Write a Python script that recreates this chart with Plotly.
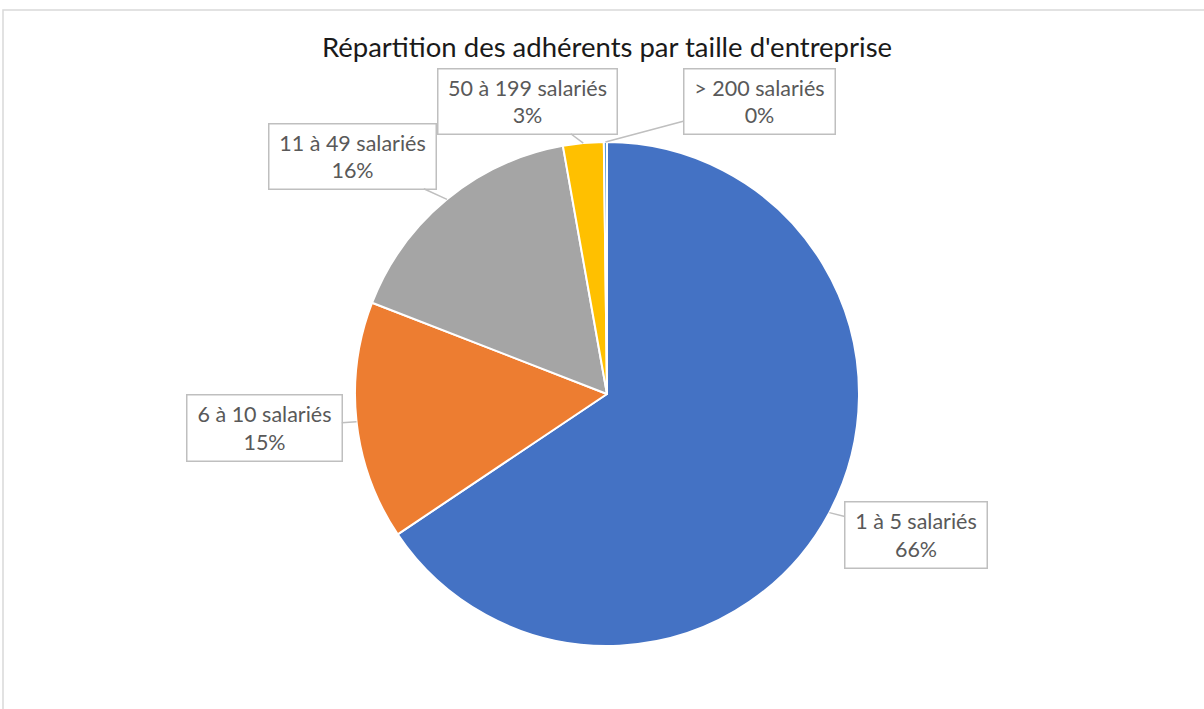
import math
import plotly.graph_objects as go

# ---- data ----
categories = ["1 à 5 salariés", "6 à 10 salariés", "11 à 49 salariés", "50 à 199 salariés", "> 200 salariés"]
values = [65.6, 15.3, 16.3, 2.6, 0.2]
colors = ["#4472C4", "#ED7D31", "#A5A5A5", "#FFC000", "#5B9BD5"]
title_text = "Répartition des adhérents par taille d'entreprise"

# ---- layout constants (pixels) ----
W, H = 1204, 709
CX, CY, R = 607, 394, 252
# label box centres and sizes (layout)
box_centres = [(916, 535), (264, 428), (352, 156), (527, 101), (759, 101)]
box_sizes = [(141, 65), (154, 65), (166, 64), (178, 64), (150, 64)]

fig = go.Figure()
fig.add_trace(go.Pie(
    labels=categories, values=values, sort=False, direction="clockwise", rotation=0,
    marker=dict(colors=colors, line=dict(color="white", width=2)),
    textinfo="none", hoverinfo="label+percent", showlegend=False,
    domain=dict(x=[(CX - R) / W, (CX + R) / W], y=[(H - CY - R) / H, (H - CY + R) / H]),
))

# hidden pixel axes covering the whole figure
fig.update_layout(
    xaxis=dict(range=[0, W], visible=False, domain=[0, 1], fixedrange=True),
    yaxis=dict(range=[H, 0], visible=False, domain=[0, 1], fixedrange=True),
)

total = sum(values)
cum = 0.0
annotations = []
for i, (cat, v) in enumerate(zip(categories, values)):
    mid = (cum + v / 2) / total * 2 * math.pi
    cum += v
    ex = CX + R * math.sin(mid)
    ey = CY - R * math.cos(mid)
    pct = round(v / total * 100)
    bx, by = box_centres[i]
    bw, bh = box_sizes[i]
    annotations.append(dict(
        x=ex, y=ey, xref="x", yref="y",
        ax=bx, ay=by, axref="x", ayref="y",
        text=f"{cat}<br>{pct}%", showarrow=True, arrowhead=0, arrowwidth=1.5,
        arrowcolor="#BFBFBF", bordercolor="#BFBFBF", borderwidth=1.5, borderpad=0,
        bgcolor="white", width=bw, height=bh, align="center", valign="middle",
        font=dict(family="Lato", size=21.5, color="#595959"),
    ))

fig.update_layout(
    width=W, height=H, margin=dict(l=0, r=0, t=0, b=0),
    paper_bgcolor="white", plot_bgcolor="white",
    title=dict(text=title_text, x=607 / W, xanchor="center", y=1 - 47 / H, yanchor="middle",
               font=dict(family="Lato", size=27.5, color="#1a1a1a")),
    annotations=annotations,
    shapes=[dict(type="rect", xref="paper", yref="paper", x0=3 / W, y0=-0.05, x1=1.05, y1=1 - 10 / H,
                 line=dict(color="#D9D9D9", width=1.5), layer="below")],
)

fig.write_html("out.html", config={"displayModeBar": False},
               post_script="document.body.style.margin='0px';")
